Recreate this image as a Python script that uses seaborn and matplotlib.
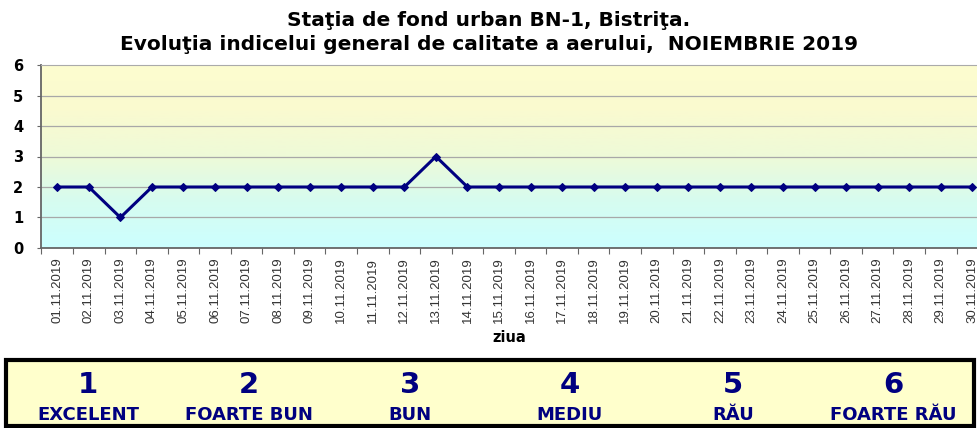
import numpy as np
import pandas as pd
import seaborn as sns
import matplotlib.pyplot as plt
from matplotlib.patches import Rectangle
from matplotlib.colors import LinearSegmentedColormap

days = ["%02d.11.2019" % d for d in range(1, 31)]
index_values = [2, 2, 1, 2, 2, 2, 2, 2, 2, 2, 2, 2, 3, 2, 2,
                2, 2, 2, 2, 2, 2, 2, 2, 2, 2, 2, 2, 2, 2, 2]
legend_numbers = ["1", "2", "3", "4", "5", "6"]
legend_labels = ["EXCELENT", "FOARTE BUN", "BUN", "MEDIU", "RĂU", "FOARTE RĂU"]

df = pd.DataFrame({"pos": np.arange(len(days)), "ziua": days, "indice": index_values})

sns.set_style("white")
plt.rcParams["font.family"] = ["Liberation Sans", "DejaVu Sans"]
plt.rcParams["text.color"] = "black"
plt.rcParams["ytick.color"] = "black"
wide = ["DejaVu Sans"]

fig = plt.figure(figsize=(9.78, 4.28), dpi=100)
ax = fig.add_axes([41.5 / 978, 1 - 248 / 428, 936.5 / 978, 183 / 428])

# gradient background (cyan at bottom, pale yellow at top)
cmap = LinearSegmentedColormap.from_list("bg", ["#ccffff", "#d6fcf0", "#eefad8", "#fafad0", "#fdfdcf"])
grad = np.linspace(0, 1, 256).reshape(-1, 1)
ax.imshow(grad, aspect="auto", cmap=cmap, origin="lower",
          extent=[-0.5, 29.18, 0, 6], zorder=0)

for y in range(1, 6):
    ax.axhline(y, color="#a8a8a8", lw=0.9, zorder=1)

sns.lineplot(data=df, x="pos", y="indice", ax=ax, color="#000080", lw=2.2,
             marker="D", markersize=4.5, markeredgecolor="#000080", zorder=3)

ax.set_xlim(-0.5, 29.18)
ax.set_ylim(0, 6)
ax.set_xticks(df["pos"])
ax.set_xticklabels(days, rotation=90, fontsize=9.5, color="#333333")
ax.set_xticks(np.arange(-0.5, 29.5, 1), minor=True)
ax.tick_params(axis="x", which="major", length=0, pad=7)
ax.tick_params(axis="x", which="minor", length=4, color="#666666", width=0.8, direction="out", bottom=True)
ax.set_yticks(range(0, 7))
ax.set_yticklabels([str(v) for v in range(0, 7)], fontsize=10.5, fontweight="bold", family=wide)
ax.tick_params(axis="y", length=3, color="#666666", labelcolor="black", width=0.8, direction="out",
               left=True, pad=10)
ax.set_xlabel("ziua", fontsize=10.5, fontweight="bold", labelpad=5, family=wide, color="black")
ax.set_ylabel("")
for side in ["left", "bottom"]:
    ax.spines[side].set_color("#666666")
    ax.spines[side].set_linewidth(1.3)
ax.spines["top"].set_color("#aaaaaa")
ax.spines["right"].set_visible(False)

fig.text(0.5, 1 - 20 / 428, "Staţia de fond urban BN-1, Bistriţa.", ha="center", va="center",
         fontsize=14.5, fontweight="bold", family=wide, color="black")
fig.text(0.5, 1 - 44 / 428, "Evoluţia indicelui general de calitate a aerului,  NOIEMBRIE 2019",
         ha="center", va="center", fontsize=14.5, fontweight="bold", family=wide, color="black")

# legend box at the bottom
fig.patches.append(Rectangle((6 / 978, 1 - 426 / 428), 968 / 978, 66 / 428, transform=fig.transFigure,
                             facecolor="#ffffcc", edgecolor="black", lw=3, zorder=0))
centers = [88, 249, 410, 570, 733, 893]
for cx, num, lab in zip(centers, legend_numbers, legend_labels):
    fig.text(cx / 978, 1 - 385 / 428, num, ha="center", va="center", fontsize=21,
             fontweight="bold", color="#000080", family=wide)
    fig.text(cx / 978, 1 - 415 / 428, lab, ha="center", va="center", fontsize=13,
             fontweight="bold", color="#000080", family=wide)

fig.savefig("out.png", dpi=100)
